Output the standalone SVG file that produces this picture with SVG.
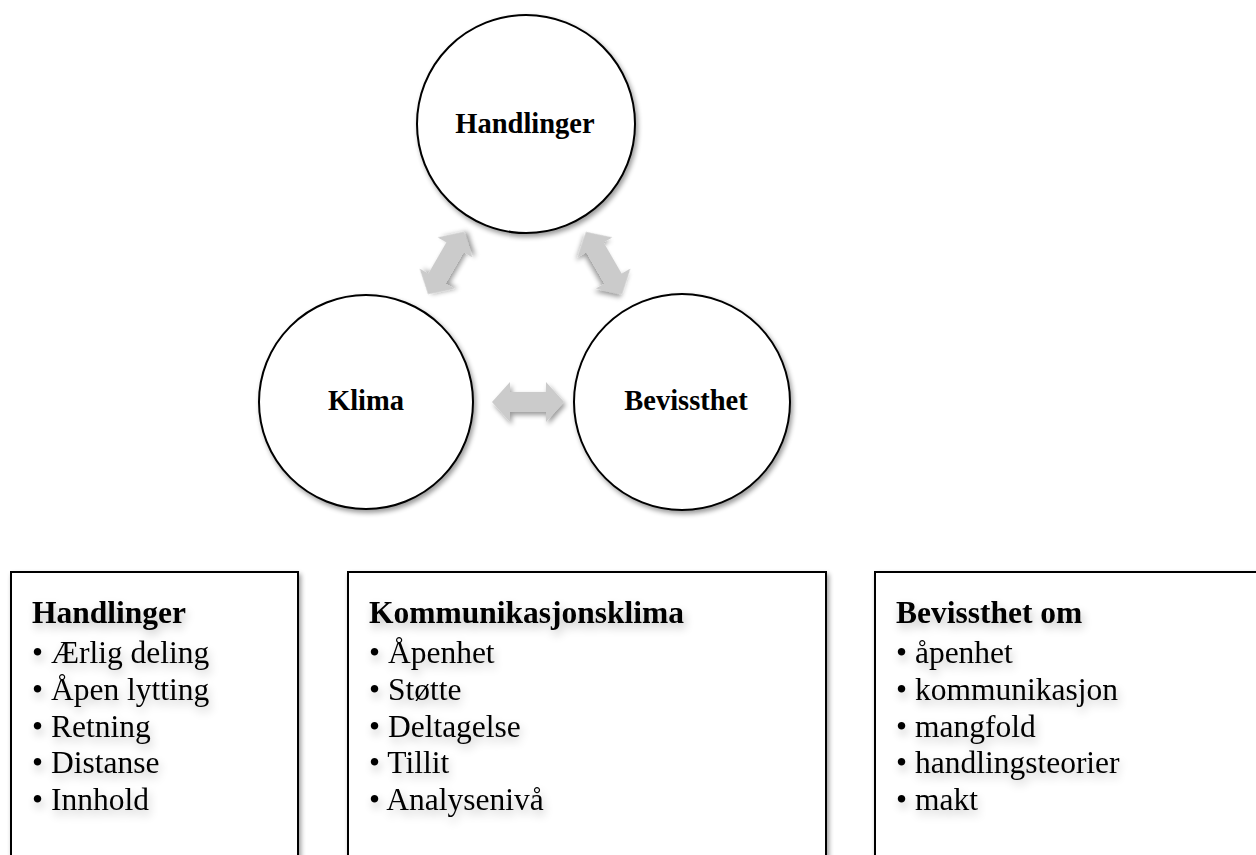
<svg xmlns="http://www.w3.org/2000/svg" width="1256" height="855" viewBox="0 0 1256 855">
<defs>
<filter id="sh" x="-20%" y="-20%" width="140%" height="140%">
<feGaussianBlur in="SourceAlpha" stdDeviation="2.5"/>
<feOffset dx="2" dy="3" result="b"/>
<feComponentTransfer><feFuncA type="linear" slope="0.4"/></feComponentTransfer>
<feMerge><feMergeNode/><feMergeNode in="SourceGraphic"/></feMerge>
</filter>
<filter id="tsh" x="-20%" y="-40%" width="140%" height="180%">
<feGaussianBlur in="SourceAlpha" stdDeviation="5"/>
<feOffset dx="2" dy="5" result="b"/>
<feComponentTransfer><feFuncA type="linear" slope="0.25"/></feComponentTransfer>
<feMerge><feMergeNode/><feMergeNode in="SourceGraphic"/></feMerge>
</filter>
<path id="dbl" d="M-36,0 L-18,-20 L-18,-10 L18,-10 L18,-20 L36,0 L18,20 L18,10 L-18,10 L-18,20 Z"/>
</defs>
<style>
.circ{fill:#fff;stroke:#000;stroke-width:2;filter:url(#sh)}
.box{fill:#fff;stroke:#000;stroke-width:2;filter:url(#sh)}
.ctext{font-family:"Liberation Serif","Times New Roman",serif;font-weight:bold;font-size:28.5px;text-anchor:middle;fill:#000}
.btext{font-family:"Liberation Serif","Times New Roman",serif;font-size:31.5px;fill:#000;filter:url(#tsh)}
.btitle{font-weight:bold}
.arr{fill:#cbcbcb;filter:url(#sh)}
</style>
<g id="connectors">
<use href="#dbl" class="arr" transform="translate(446,263) rotate(-60)"/>
<use href="#dbl" class="arr" transform="translate(604,263) rotate(60)"/>
<use href="#dbl" class="arr" transform="translate(528,402)"/>
</g>
<g id="node-handlinger">
<circle class="circ" cx="526" cy="124" r="109"/>
<text class="ctext" x="525" y="133">Handlinger</text>
</g>
<g id="node-klima">
<circle class="circ" cx="366" cy="402" r="107"/>
<text class="ctext" x="366" y="410">Klima</text>
</g>
<g id="node-bevissthet">
<circle class="circ" cx="682" cy="402" r="108"/>
<text class="ctext" x="686" y="410">Bevissthet</text>
</g>
<g id="box-handlinger">
<rect class="box" x="11" y="572" width="287" height="300"/>
<text class="btext" x="32"><tspan class="btitle" x="32" y="623">Handlinger</tspan><tspan x="32" y="663">• Ærlig deling</tspan><tspan x="32" y="700">• Åpen lytting</tspan><tspan x="32" y="737">• Retning</tspan><tspan x="32" y="773">• Distanse</tspan><tspan x="32" y="810">• Innhold</tspan></text>
</g>
<g id="box-kommunikasjonsklima">
<rect class="box" x="348" y="572" width="478" height="300"/>
<text class="btext" x="369"><tspan class="btitle" x="369" y="623">Kommunikasjonsklima</tspan><tspan x="369" y="663">• Åpenhet</tspan><tspan x="369" y="700">• Støtte</tspan><tspan x="369" y="737">• Deltagelse</tspan><tspan x="369" y="773">• Tillit</tspan><tspan x="369" y="810">• Analysenivå</tspan></text>
</g>
<g id="box-bevissthet">
<rect class="box" x="875" y="572" width="400" height="300"/>
<text class="btext" x="896"><tspan class="btitle" x="896" y="623">Bevissthet om</tspan><tspan x="896" y="663">• åpenhet</tspan><tspan x="896" y="700">• kommunikasjon</tspan><tspan x="896" y="737">• mangfold</tspan><tspan x="896" y="773">• handlingsteorier</tspan><tspan x="896" y="810">• makt</tspan></text>
</g>
</svg>
